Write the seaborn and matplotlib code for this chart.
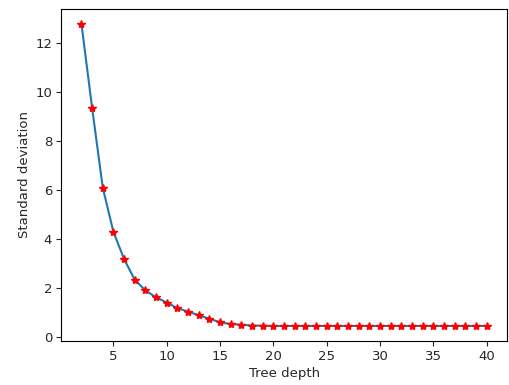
import matplotlib
matplotlib.use('Agg')
import matplotlib.pyplot as plt
import seaborn as sns
import pandas as pd

# tree depth vs standard deviation
depth = list(range(2, 41))
std_dev = [12.8, 9.36, 6.09, 4.28, 3.17, 2.32, 1.89, 1.6, 1.39, 1.16, 1.02, 0.87, 0.73, 0.58,
           0.51, 0.48, 0.45, 0.44, 0.43, 0.43, 0.43, 0.43, 0.43, 0.43, 0.43, 0.43, 0.43,
           0.43, 0.43, 0.43, 0.43, 0.43, 0.43, 0.43, 0.43, 0.43, 0.43, 0.43, 0.43]

df = pd.DataFrame({'depth': depth, 'std': std_dev})

sns.set_style('white')
plt.rcParams['font.family'] = ['DejaVu Sans']

fig, ax = plt.subplots(figsize=(5.1, 3.85), dpi=100)
sns.lineplot(data=df, x='depth', y='std', ax=ax, color='#1f77b4', linewidth=1.5)
ax.plot(df['depth'], df['std'], 'r*', markersize=6)

ax.set_xlabel('Tree depth', fontsize=9.5, labelpad=3)
ax.set_ylabel('Standard deviation', fontsize=9.5, labelpad=3)
ax.set_xticks([5, 10, 15, 20, 25, 30, 35, 40])
ax.tick_params(axis='both', which='both', direction='out', length=3.5, width=0.8,
               bottom=True, left=True, labelsize=9.5, pad=3)
for s in ax.spines.values():
    s.set_color('black')
    s.set_linewidth(0.8)

plt.subplots_adjust(left=0.12, right=0.994, top=0.977, bottom=0.114)
plt.savefig('out.png', dpi=100)
